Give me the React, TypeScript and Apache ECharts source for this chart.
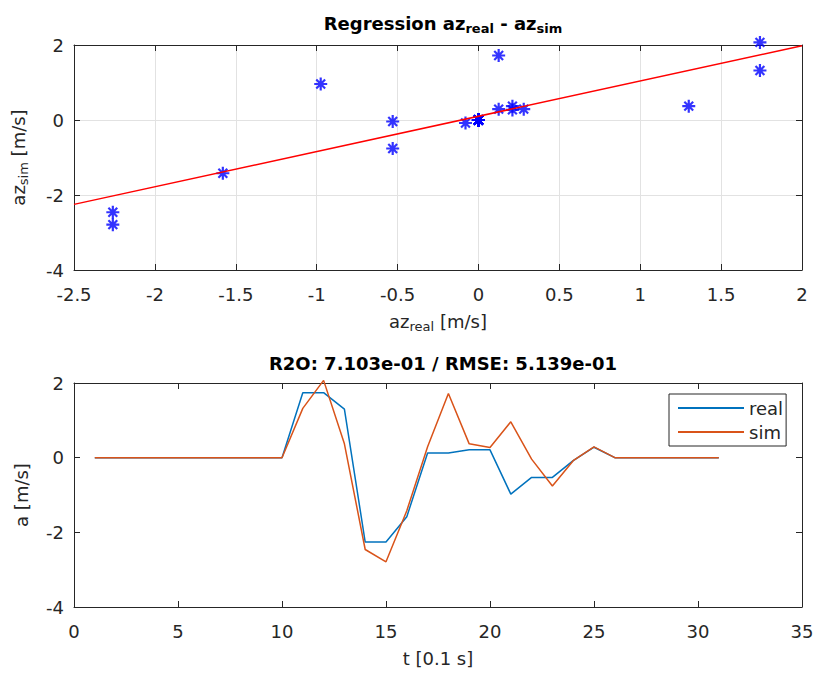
import React, { useEffect, useRef } from 'react';
import * as echarts from 'echarts';

const tSteps = [1, 2, 3, 4, 5, 6, 7, 8, 9, 10, 11, 12, 13, 14, 15, 16, 17, 18, 19, 20, 21, 22, 23, 24, 25, 26, 27, 28, 29, 30, 31];
const realAz = [0, 0, 0, 0, 0, 0, 0, 0, 0, 0, 1.74, 1.74, 1.3, -2.26, -2.26, -1.58, 0.125, 0.125, 0.21, 0.21, -0.975, -0.53, -0.53, -0.08, 0.28, 0, 0, 0, 0, 0, 0];
const simAz = [0, 0, 0, 0, 0, 0, 0, 0, 0, 0, 1.32, 2.07, 0.37, -2.46, -2.79, -1.42, 0.29, 1.72, 0.37, 0.27, 0.96, -0.04, -0.76, -0.08, 0.29, 0, 0, 0, 0, 0, 0];
const regX = [-2.5, 2];
const regY = [-2.25, 1.98];
const seriesNames = ['real', 'sim'];

const FONT = "'DejaVu Sans', 'Liberation Sans', Arial, sans-serif";
const AX = '#262626';
const FS = 18;

function mainX(gridIndex: number, min: number, max: number, interval: number, name: string, nameGap: number, grid: boolean, rich?: any) {
  return {
    type: 'value', gridIndex, min, max, interval, position: 'bottom',
    axisLine: { show: true, onZero: false, lineStyle: { color: AX, width: 1 } },
    axisTick: { show: true, inside: true, length: 6, lineStyle: { color: AX } },
    axisLabel: { color: AX, fontSize: FS, fontFamily: FONT, margin: 15 },
    splitLine: { show: grid, lineStyle: { color: '#e2e2e2', width: 1 } },
    name, nameLocation: 'middle', nameGap,
    nameTextStyle: { color: AX, fontSize: FS, fontFamily: FONT, rich },
  };
}
function mirrorX(gridIndex: number, min: number, max: number, interval: number) {
  return {
    type: 'value', gridIndex, min, max, interval, position: 'top',
    axisLine: { show: true, onZero: false, lineStyle: { color: AX, width: 1 } },
    axisTick: { show: true, inside: true, length: 6, lineStyle: { color: AX } },
    axisLabel: { show: false }, splitLine: { show: false },
  };
}
function mainY(gridIndex: number, name: string, nameGap: number, grid: boolean, rich?: any) {
  return {
    type: 'value', gridIndex, min: -4, max: 2, interval: 2, position: 'left',
    axisLine: { show: true, onZero: false, lineStyle: { color: AX, width: 1 } },
    axisTick: { show: true, inside: true, length: 6, lineStyle: { color: AX } },
    axisLabel: { color: AX, fontSize: FS, fontFamily: FONT, margin: 10 },
    splitLine: { show: grid, lineStyle: { color: '#e2e2e2', width: 1 } },
    name, nameLocation: 'middle', nameGap, nameRotate: 90,
    nameTextStyle: { color: AX, fontSize: FS, fontFamily: FONT, rich },
  };
}
function mirrorY(gridIndex: number) {
  return {
    type: 'value', gridIndex, min: -4, max: 2, interval: 2, position: 'right',
    axisLine: { show: true, onZero: false, lineStyle: { color: AX, width: 1 } },
    axisTick: { show: true, inside: true, length: 6, lineStyle: { color: AX } },
    axisLabel: { show: false }, splitLine: { show: false },
  };
}

const subRich = {
  n: { fontSize: FS, fontFamily: FONT, color: AX },
  s: { fontSize: 13, fontFamily: FONT, color: AX, padding: [10, 0, 0, 0] },
};
const titleRich = {
  b: { fontSize: FS, fontWeight: 'bold', fontFamily: FONT, color: '#000' },
  s: { fontSize: 13, fontWeight: 'bold', fontFamily: FONT, color: '#000', padding: [10, 0, 0, 0] },
};

const STAR = 'path://M0,5L10,5M5,0L5,10M1.6,1.6L8.4,8.4M8.4,1.6L1.6,8.4';

export default function App() {
  const ref = useRef<HTMLDivElement>(null);
  useEffect(() => {
    const chart = echarts.init(ref.current as HTMLDivElement, null, { renderer: 'svg' });
    chart.setOption({
      animation: false,
      backgroundColor: '#fff',
      title: [
        {
          text: '{b|Regression az}{s|real}{b| - az}{s|sim}',
          left: 438, top: 7, textAlign: 'center',
          textStyle: { rich: titleRich },
        },
        {
          text: 'R2O: 7.103e-01 / RMSE: 5.139e-01',
          left: 438, top: 349, textAlign: 'center',
          textStyle: { fontSize: FS, fontWeight: 'bold', fontFamily: FONT, color: '#000' },
        },
      ],
      legend: {
        data: seriesNames,
        orient: 'vertical', left: 669, top: 394,
        itemWidth: 66, itemHeight: 14, itemGap: 6,
        padding: [5, 3, 5, 8],
        borderColor: AX, borderWidth: 1, backgroundColor: '#fff',
        itemStyle: { opacity: 0 },
        textStyle: { fontSize: FS, color: AX, fontFamily: FONT },
      },
      grid: [
        { left: 74, right: 16, top: 45, height: 225 },
        { left: 74, right: 16, top: 383, height: 224 },
      ],
      xAxis: [
        mainX(0, -2.5, 2, 0.5, '{n|az}{s|real}{n| [m/s]}', 40, true, subRich),
        mirrorX(0, -2.5, 2, 0.5),
        mainX(1, 0, 35, 5, 't [0.1 s]', 42, false),
        mirrorX(1, 0, 35, 5),
      ],
      yAxis: [
        mainY(0, '{n|az}{s|sim}{n| [m/s]}', 44, true, subRich),
        mirrorY(0),
        mainY(1, 'a [m/s]', 44, false),
        mirrorY(1),
      ],
      series: [
        {
          type: 'scatter', xAxisIndex: 0, yAxisIndex: 0,
          data: realAz.map((r, i) => [r, simAz[i]]),
          symbol: STAR, symbolSize: 13, clip: false,
          itemStyle: { color: 'transparent', borderColor: '#0000ff', borderWidth: 2.2 },
          z: 2,
        },
        {
          type: 'line', xAxisIndex: 0, yAxisIndex: 0,
          data: regX.map((x, i) => [x, regY[i]]),
          symbol: 'none', lineStyle: { color: '#ff0000', width: 1.5 },
          z: 3,
        },
        {
          name: seriesNames[0], type: 'line', xAxisIndex: 2, yAxisIndex: 2,
          data: tSteps.map((t, i) => [t, realAz[i]]), clip: false,
          symbol: 'none', color: '#0072BD', lineStyle: { color: '#0072BD', width: 1.5 },
        },
        {
          name: seriesNames[1], type: 'line', xAxisIndex: 2, yAxisIndex: 2,
          data: tSteps.map((t, i) => [t, simAz[i]]), clip: false,
          symbol: 'none', color: '#D95319', lineStyle: { color: '#D95319', width: 1.5 },
        },
      ],
    });
    return () => chart.dispose();
  }, []);
  return (
    <div
      ref={ref}
      style={{ position: 'absolute', left: 0, top: 0, width: 818, height: 677, background: '#fff' }}
    />
  );
}
